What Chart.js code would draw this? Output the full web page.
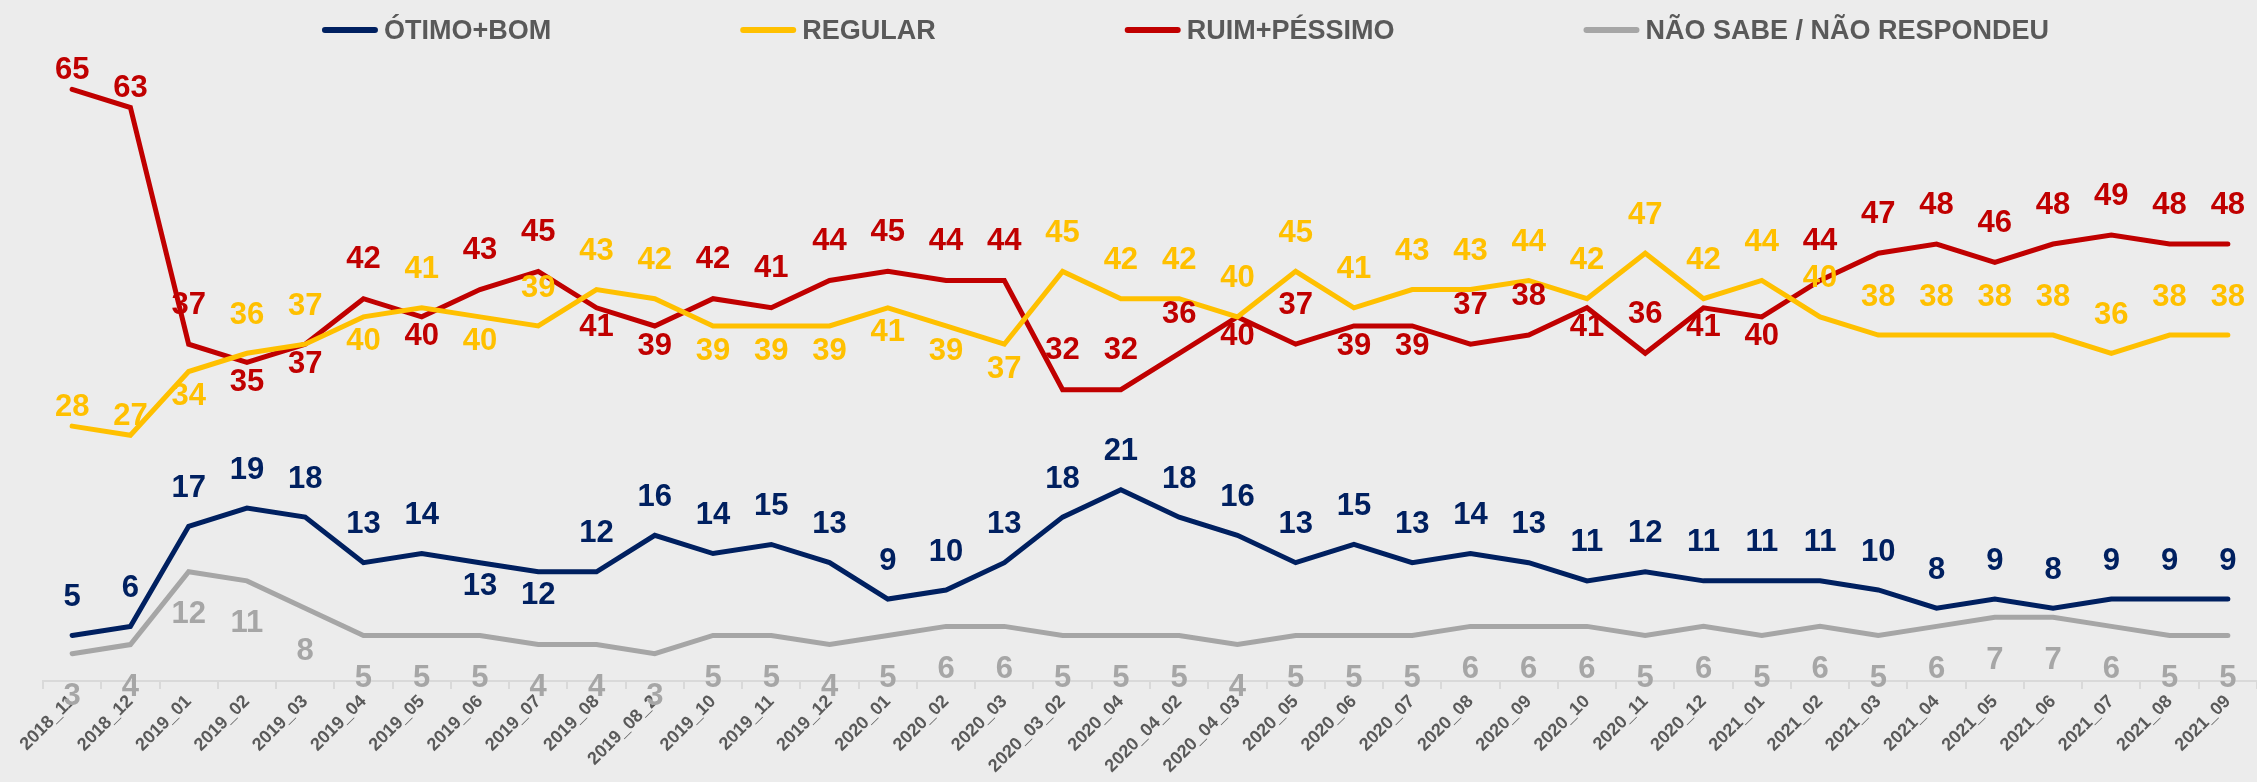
<!DOCTYPE html>
<html lang="pt-BR">
<head>
<meta charset="utf-8">
<title>Avaliação do governo</title>
<script src="https://cdn.jsdelivr.net/npm/chart.js@4.4.1/dist/chart.umd.min.js"></script>
<style>
  html, body { margin: 0; padding: 0; background: #ececec; }
  #grafico { display: block; }
</style>
</head>
<body>
<canvas id="grafico" width="2257" height="782"></canvas>
<script>
// rodadas da pesquisa
const rodadas = ['2018_11', '2018_12', '2019_01', '2019_02', '2019_03', '2019_04', '2019_05', '2019_06',
  '2019_07', '2019_08', '2019_08_2', '2019_10', '2019_11', '2019_12', '2020_01', '2020_02', '2020_03',
  '2020_03_02', '2020_04', '2020_04_02', '2020_04_03', '2020_05', '2020_06', '2020_07', '2020_08',
  '2020_09', '2020_10', '2020_11', '2020_12', '2021_01', '2021_02', '2021_03', '2021_04', '2021_05',
  '2021_06', '2021_07', '2021_08', '2021_09'];

const otimoBom = [5, 6, 17, 19, 18, 13, 14, 13, 12, 12, 16, 14, 15, 13, 9, 10, 13, 18, 21, 18,
  16, 13, 15, 13, 14, 13, 11, 12, 11, 11, 11, 10, 8, 9, 8, 9, 9, 9];
const regular = [28, 27, 34, 36, 37, 40, 41, 40, 39, 43, 42, 39, 39, 39, 41, 39, 37, 45, 42, 42,
  40, 45, 41, 43, 43, 44, 42, 47, 42, 44, 40, 38, 38, 38, 38, 36, 38, 38];
const ruimPessimo = [65, 63, 37, 35, 37, 42, 40, 43, 45, 41, 39, 42, 41, 44, 45, 44, 44, 32, 32, 36,
  40, 37, 39, 39, 37, 38, 41, 36, 41, 40, 44, 47, 48, 46, 48, 49, 48, 48];
const naoSabe = [3, 4, 12, 11, 8, 5, 5, 5, 4, 4, 3, 5, 5, 4, 5, 6, 6, 5, 5, 5,
  4, 5, 5, 5, 6, 6, 6, 5, 6, 5, 6, 5, 6, 7, 7, 6, 5, 5];

// onde fica o rótulo de cada ponto: a = acima, c = acima e colado, b = abaixo
const ladoOtimoBom = 'aaaaaaabbaaaaaaaaaaaaaaaaaaaaaaaaaaaaa'.split('');
const ladoRegular = 'ccbaababaaabbbbbbaaaaaaaaaaaaaaaaaaaaa'.split('');
const ladoRuim = 'ccabbabaabbaaaaaaaaababbaababbaaaaaaaa'.split('');
const ladoNaoSabe = 'bbbbbbbbbbbbbbbbbbbbbbbbbbbbbbbbbbbbbb'.split('');

const fonte = '"Liberation Sans", Arial, sans-serif';
const cinzaTexto = '#595959';

function serie(nome, valores, cor, lados, acima, abaixo) {
  return {
    label: nome,
    data: valores,
    borderColor: cor,
    backgroundColor: cor,
    borderWidth: 5,
    borderCapStyle: 'round',
    pointRadius: 0,
    pointHoverRadius: 0,
    tension: 0,
    lados: lados,
    distAcima: acima,
    distAbaixo: abaixo
  };
}

// rótulos de dados desenhados à mão (sem plugin externo)
const rotulos = {
  id: 'rotulos',
  afterDatasetsDraw(chart) {
    const ctx = chart.ctx;
    ctx.save();
    ctx.font = 'bold 31px ' + fonte;
    ctx.textAlign = 'center';
    ctx.textBaseline = 'middle';
    chart.data.datasets.forEach((ds, i) => {
      const meta = chart.getDatasetMeta(i);
      ctx.fillStyle = ds.borderColor;
      meta.data.forEach((pt, j) => {
        let dy = ds.distAbaixo;
        if (ds.lados[j] === 'a') dy = -ds.distAcima;
        if (ds.lados[j] === 'c') dy = -19;
        ctx.fillText(String(ds.data[j]), pt.x, pt.y + dy);
      });
    });
    ctx.restore();
  }
};

// legenda em linha com espaço largo entre os itens
const legenda = {
  id: 'legendaLinhas',
  afterDraw(chart) {
    const ctx = chart.ctx;
    ctx.save();
    ctx.font = 'bold 27px ' + fonte;
    const amostra = 56, folga = 6, espaco = 189, base = 39, yLinha = 30;
    const itens = chart.data.datasets.map(ds => ({
      texto: ds.label,
      cor: ds.borderColor,
      larg: amostra + folga + ctx.measureText(ds.label).width
    }));
    const total = itens.reduce((s, it) => s + it.larg, 0) + espaco * (itens.length - 1);
    let x = chart.width / 2 + 57 - total / 2;
    itens.forEach(it => {
      ctx.strokeStyle = it.cor;
      ctx.lineWidth = 6;
      ctx.lineCap = 'round';
      ctx.beginPath();
      ctx.moveTo(x + 3, yLinha);
      ctx.lineTo(x + amostra - 3, yLinha);
      ctx.stroke();
      ctx.fillStyle = cinzaTexto;
      ctx.textBaseline = 'alphabetic';
      ctx.fillText(it.texto, x + amostra + folga, base);
      x += it.larg + espaco;
    });
    ctx.restore();
  }
};

new Chart(document.getElementById('grafico'), {
  type: 'line',
  data: {
    labels: rodadas,
    datasets: [
      serie('ÓTIMO+BOM', otimoBom, '#002060', ladoOtimoBom, 38, 24),
      serie('REGULAR', regular, '#ffc000', ladoRegular, 38, 25),
      serie('RUIM+PÉSSIMO', ruimPessimo, '#c00000', ladoRuim, 39, 20),
      serie('NÃO SABE / NÃO RESPONDEU', naoSabe, '#a6a6a6', ladoNaoSabe, 38, 43)
    ]
  },
  options: {
    responsive: false,
    animation: false,
    layout: { padding: { top: 62, left: 43, right: 0, bottom: 0 } },
    plugins: {
      legend: { display: false },
      tooltip: { enabled: false }
    },
    scales: {
      x: {
        offset: true,
        grid: {
          display: true,
          drawOnChartArea: false,
          drawTicks: true,
          tickLength: 8,
          offset: true,
          color: '#d9d9d9',
          lineWidth: 2
        },
        border: { display: true, color: '#d9d9d9', width: 2 },
        ticks: {
          autoSkip: false,
          maxRotation: 45,
          minRotation: 45,
          padding: 2,
          color: cinzaTexto,
          font: { family: fonte, size: 18, weight: 'bold' }
        },
        afterFit(scale) { scale.height = 101; }
      },
      y: {
        display: false,
        min: 0,
        max: 68
      }
    }
  },
  plugins: [rotulos, legenda]
});
</script>
</body>
</html>
